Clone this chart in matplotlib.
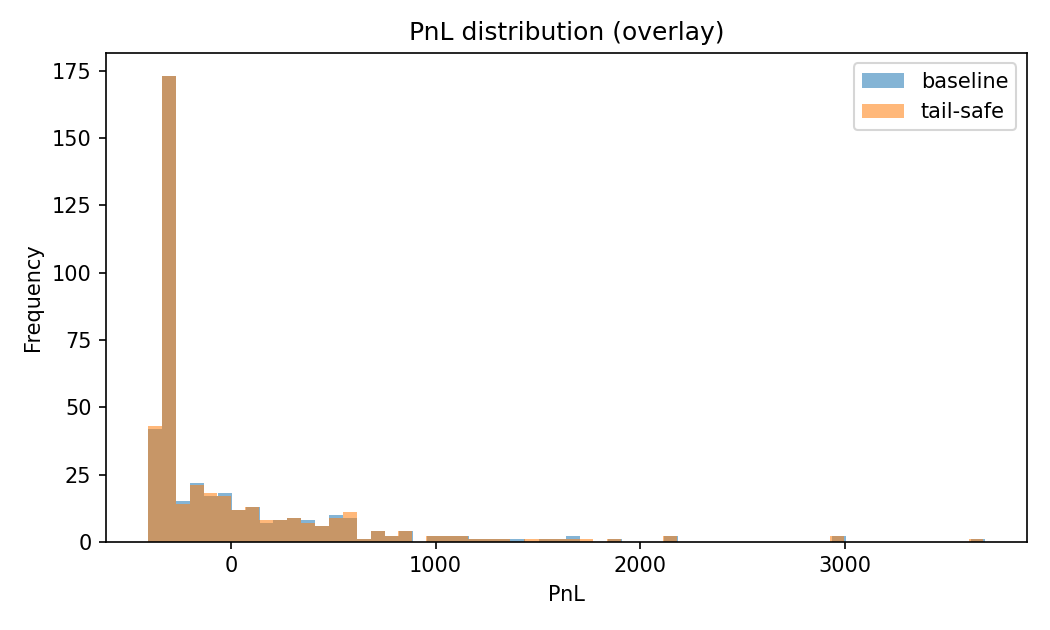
import numpy as np
import matplotlib
matplotlib.use("Agg")
import matplotlib.pyplot as plt
from matplotlib.ticker import MultipleLocator

# Histogram counts per bin (60 bins each)
baseline_counts = [42, 173, 15, 22, 17, 18, 12, 13, 7, 8,
                   9, 8, 6, 10, 9, 1, 4, 2, 4, 0,
                   2, 2, 2, 1, 1, 1, 1, 0, 1, 1,
                   2, 0, 0, 1, 0, 0, 0, 2, 0, 0,
                   0, 0, 0, 0, 0, 0, 0, 0, 0, 2,
                   0, 0, 0, 0, 0, 0, 0, 0, 0, 1]
tailsafe_counts = [43, 173, 14, 21, 18, 17, 12, 13, 8, 8,
                   9, 7, 6, 9, 11, 1, 4, 2, 4, 0,
                   2, 2, 2, 1, 1, 1, 0, 1, 1, 1,
                   1, 1, 0, 1, 0, 0, 0, 2, 0, 0,
                   0, 0, 0, 0, 0, 0, 0, 0, 0, 2,
                   0, 0, 0, 0, 0, 0, 0, 0, 0, 1]
# Data range of each series (min, max PnL)
baseline_range = (-405, 3683)
tailsafe_range = (-405, 3673)
n_bins = 60

base_edges = np.linspace(baseline_range[0], baseline_range[1], n_bins + 1)
tail_edges = np.linspace(tailsafe_range[0], tailsafe_range[1], n_bins + 1)

fig, ax = plt.subplots(figsize=(7, 4.2), dpi=150)
ax.hist(base_edges[:-1], bins=base_edges, weights=baseline_counts,
        alpha=0.55, label="baseline", color="C0")
ax.hist(tail_edges[:-1], bins=tail_edges, weights=tailsafe_counts,
        alpha=0.55, label="tail-safe", color="C1")
ax.xaxis.set_major_locator(MultipleLocator(1000))
ax.set_title("PnL distribution (overlay)")
ax.set_xlabel("PnL")
ax.set_ylabel("Frequency")
ax.legend()
fig.subplots_adjust(left=0.101, right=0.978, top=0.916, bottom=0.140)
fig.savefig("out.png", dpi=150)
